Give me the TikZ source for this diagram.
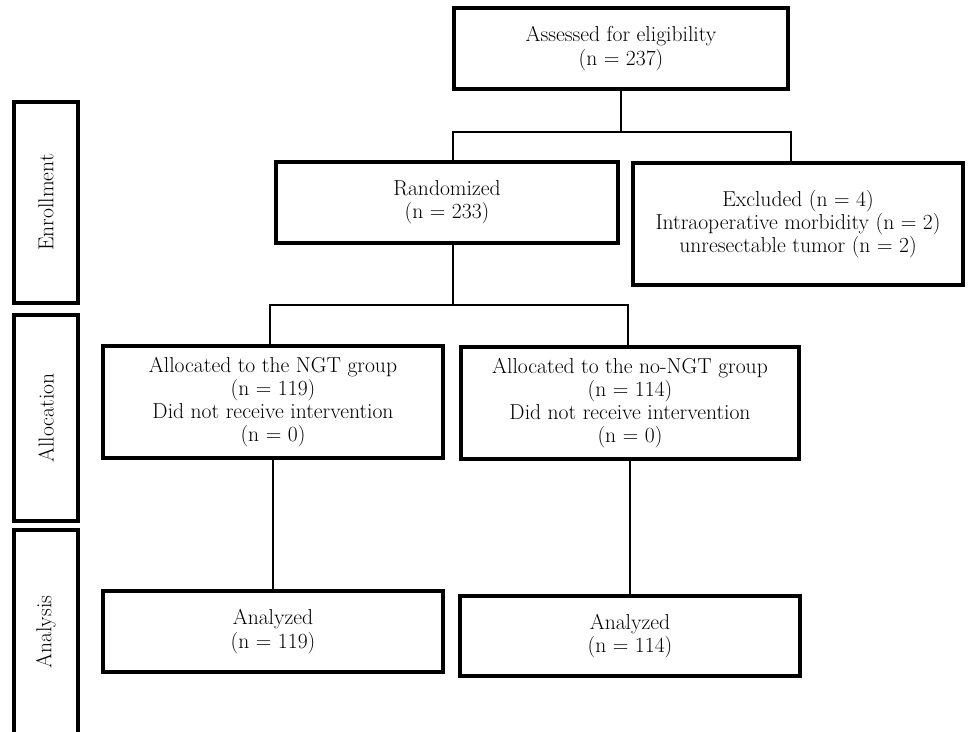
\documentclass[tikz,border=0pt]{standalone}
\begin{document}
\begin{tikzpicture}[x=0.75pt,y=-0.75pt,
  txt/.style={font=\fontsize{16.2}{17.4}\selectfont},
  box/.style={draw, line width=2.5pt, rectangle, align=center, inner sep=0pt, txt},
  lab/.style={draw, line width=2.5pt, rectangle, inner sep=0pt, minimum width=64*0.75pt},
  conn/.style={line width=1.7pt}]
\useasboundingbox (0,0) rectangle (975,732);
\fill[white] (0,0) rectangle (975,732);
% flow boxes
\node[box, minimum width=334*0.75pt, minimum height=81*0.75pt] (assess) at (621,48.5) {Assessed for eligibility\\(n = 237)};
\node[box, minimum width=342*0.75pt, minimum height=81*0.75pt] (rand) at (447,202.5) {Randomized\\(n = 233)};
\node[box, minimum width=330*0.75pt, minimum height=122*0.75pt] (excl) at (798,224) {Excluded (n = 4)\\Intraoperative morbidity (n = 2)\\unresectable tumor (n = 2)};
\node[box, minimum width=340*0.75pt, minimum height=112*0.75pt] (ngt) at (273,402) {Allocated to the NGT group\\(n = 119)\\Did not receive intervention\\(n = 0)};
\node[box, minimum width=338*0.75pt, minimum height=112*0.75pt] (nongt) at (630,403) {Allocated to the no-NGT group\\(n = 114)\\Did not receive intervention\\(n = 0)};
\node[box, minimum width=340*0.75pt, minimum height=81*0.75pt] (an1) at (273,631.5) {Analyzed\\(n = 119)};
\node[box, minimum width=340*0.75pt, minimum height=80*0.75pt] (an2) at (630,636) {Analyzed\\(n = 114)};
% side labels
\node[lab, minimum height=201*0.75pt] (enroll) at (46,202.5) {};
\node[txt, rotate=90] (enrollt) at (enroll) {Enrollment};
\node[lab, minimum height=206*0.75pt] (alloc) at (46,418) {};
\node[txt, rotate=90] (alloct) at (alloc) {Allocation};
\node[lab, minimum height=206*0.75pt] (anal) at (46,633) {};
\node[txt, rotate=90] (analt) at (46,632) {Analysis};
% junctions
\coordinate (j1) at (621,132);
\coordinate (j1l) at (453,132);
\coordinate (j1r) at (791,132);
\coordinate (j2) at (453,305);
\coordinate (j2l) at (270,305);
\coordinate (j2r) at (628,305);
% connectors
\draw[conn] (j1 |- assess.south) -- (j1);
\draw[conn] (j1l |- rand.north) -- (j1l) -- (j1r) -- (j1r |- excl.north);
\draw[conn] (j2 |- rand.south) -- (j2);
\draw[conn] (j2l |- ngt.north) -- (j2l) -- (j2r) -- (j2r |- nongt.north);
\draw[conn] (ngt.south) -- (an1.north);
\draw[conn] (nongt.south) -- (an2.north);
\end{tikzpicture}
\end{document}
